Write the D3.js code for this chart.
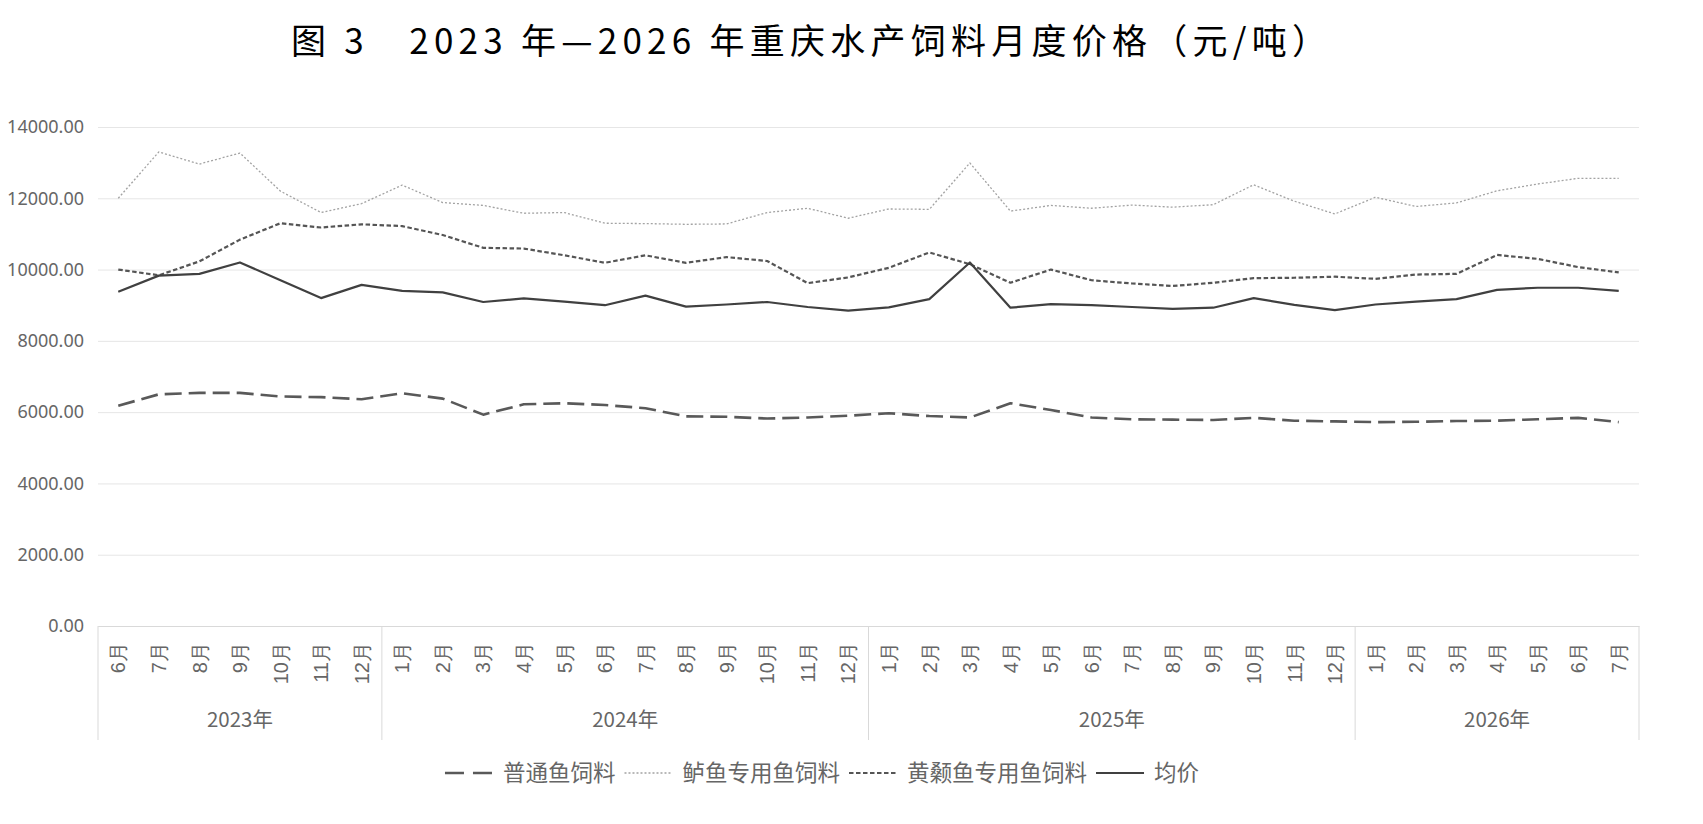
<!DOCTYPE html>
<html>
<head>
<meta charset="utf-8">
<script src="https://d3js.org/d3.v7.min.js"></script>
<style>
  html, body { margin: 0; padding: 0; background: #fff; }
  svg { display: block; font-family: "Noto Sans CJK SC", "Noto Sans", sans-serif; }
  .grid line { stroke: #e6e6e6; }
  .axisText { fill: #666; }
</style>
</head>
<body>
<div id="chart"></div>
<script>
// month categories, grouped by year on a second axis level
const monthLabels = [
  '6月', '7月', '8月', '9月', '10月', '11月', '12月',
  '1月', '2月', '3月', '4月', '5月', '6月', '7月', '8月', '9月', '10月', '11月', '12月',
  '1月', '2月', '3月', '4月', '5月', '6月', '7月', '8月', '9月', '10月', '11月', '12月',
  '1月', '2月', '3月', '4月', '5月', '6月', '7月'
];
const yearLabels = ['2023年', '2024年', '2025年', '2026年'];
const yearSpans = [7, 12, 12, 7];

const yTicks = [0, 2000, 4000, 6000, 8000, 10000, 12000, 14000];

// prices, yuan per ton
const putong = [6180, 6500, 6540, 6540, 6440, 6420, 6360, 6530, 6380, 5930, 6220, 6250,
  6200, 6110, 5880, 5870, 5820, 5850, 5900, 5970, 5890, 5850, 6250, 6060, 5850, 5800,
  5790, 5780, 5840, 5760, 5740, 5720, 5730, 5750, 5760, 5800, 5840, 5720];
const luyu = [12000, 13300, 12960, 13270, 12200, 11600, 11850, 12370, 11880, 11800, 11580, 11600,
  11300, 11290, 11270, 11280, 11600, 11720, 11440, 11700, 11690, 12990, 11640, 11800, 11720, 11810,
  11750, 11820, 12380, 11920, 11560, 12030, 11770, 11870, 12210, 12400, 12560, 12560];
const huangsang = [10000, 9840, 10230, 10840, 11300, 11180, 11270, 11220, 10970, 10610, 10590, 10400,
  10190, 10400, 10190, 10350, 10240, 9620, 9780, 10050, 10480, 10150, 9630, 10000, 9700, 9610,
  9540, 9630, 9760, 9770, 9800, 9740, 9860, 9880, 10410, 10300, 10070, 9920];
const junjia = [9380, 9830, 9880, 10200, 9700, 9200, 9570, 9400, 9360, 9090, 9190, 9100,
  9000, 9270, 8960, 9020, 9090, 8950, 8850, 8940, 9170, 10200, 8930, 9030, 9000, 8950,
  8900, 8930, 9200, 9010, 8860, 9020, 9100, 9170, 9430, 9490, 9490, 9400];

const seriesNames = ['普通鱼饲料', '鲈鱼专用鱼饲料', '黄颡鱼专用鱼饲料', '均价'];

const W = 1703, H = 824;
const margin = { top: 127, left: 98, right: 64, bottom: 198 };

const svg = d3.select('#chart').append('svg')
  .attr('width', W)
  .attr('height', H);

// title
svg.append('text')
  .attr('x', 291)
  .attr('y', 54)
  .attr('font-size', 35)
  .attr('fill', '#000')
  .attr('textLength', 1036)
  .attr('lengthAdjust', 'spacing')
  .text('图 3　2023 年—2026 年重庆水产饲料月度价格（元/吨）');

const x = d3.scaleBand()
  .domain(d3.range(monthLabels.length))
  .range([margin.left, W - margin.right]);

const y = d3.scaleLinear()
  .domain([0, 14000])
  .range([H - margin.bottom, margin.top]);

const plotW = W - margin.left - margin.right;

// Y axis with gridlines
const yAxis = svg.append('g')
  .attr('class', 'grid')
  .attr('transform', 'translate(' + margin.left + ',0)')
  .call(d3.axisLeft(y).tickValues(yTicks).tickFormat(d3.format('.2f'))
    .tickSizeInner(-plotW).tickSizeOuter(0).tickPadding(14));
yAxis.select('.domain').remove();
yAxis.selectAll('text')
  .attr('class', 'axisText')
  .attr('font-size', 18)
  .attr('font-family', '"Noto Sans", sans-serif');

// X axis, rotated month labels
const xAxis = svg.append('g')
  .attr('transform', 'translate(0,' + y(0) + ')')
  .call(d3.axisBottom(x).tickFormat(i => monthLabels[i]).tickSize(0).tickSizeOuter(0));
xAxis.select('.domain').attr('stroke', '#d9d9d9');
xAxis.selectAll('text')
  .attr('class', 'axisText')
  .attr('font-size', 20)
  .attr('text-anchor', 'end')
  .attr('transform', 'rotate(-90)')
  .attr('x', -16)
  .attr('y', 0)
  .attr('dy', '0.36em');

// year groups: separators and labels
const bounds = [0];
yearSpans.forEach(s => bounds.push(bounds[bounds.length - 1] + s));
const bx = i => (i < monthLabels.length ? x(i) : x.range()[1]);

svg.append('g').selectAll('line')
  .data(bounds)
  .join('line')
    .attr('x1', bx).attr('x2', bx)
    .attr('y1', y(0)).attr('y2', y(0) + 114)
    .attr('stroke', '#d9d9d9');

svg.append('g').selectAll('text')
  .data(yearLabels)
  .join('text')
    .attr('class', 'axisText')
    .attr('font-size', 20.5)
    .attr('text-anchor', 'middle')
    .attr('x', (d, i) => (bx(bounds[i]) + bx(bounds[i + 1])) / 2)
    .attr('y', 727)
    .text(d => d);

// lines
const styles = [
  { stroke: '#595959', width: 2.6, dash: '17,7' },
  { stroke: '#a3a3a3', width: 1.3, dash: '2,2' },
  { stroke: '#555', width: 2.2, dash: '4.5,2.5' },
  { stroke: '#404040', width: 2.2, dash: null }
];
const allSeries = [putong, luyu, huangsang, junjia];

const line = d3.line()
  .x((d, i) => x(i) + x.bandwidth() / 2)
  .y(d => y(d));

svg.append('g').selectAll('path')
  .data(allSeries)
  .join('path')
    .attr('d', d => line(d))
    .attr('fill', 'none')
    .attr('stroke', (d, i) => styles[i].stroke)
    .attr('stroke-width', (d, i) => styles[i].width)
    .attr('stroke-dasharray', (d, i) => styles[i].dash)
    .attr('stroke-linejoin', 'round');

// legend
const legend = svg.append('g');
let lx = 0;
seriesNames.forEach((name, i) => {
  legend.append('line')
    .attr('x1', lx).attr('x2', lx + 48)
    .attr('y1', 0).attr('y2', 0)
    .attr('stroke', styles[i].stroke)
    .attr('stroke-width', styles[i].width)
    .attr('stroke-dasharray', i === 0 ? '19,9' : styles[i].dash);
  const t = legend.append('text')
    .attr('class', 'axisText')
    .attr('font-size', 22.5)
    .attr('x', lx + 58)
    .attr('y', 0)
    .attr('dy', '0.36em')
    .text(name);
  lx += 58 + t.node().getComputedTextLength() + 9;
});
legend.attr('transform', 'translate(' + (822 - (lx - 9) / 2) + ',773)');
</script>
</body>
</html>
